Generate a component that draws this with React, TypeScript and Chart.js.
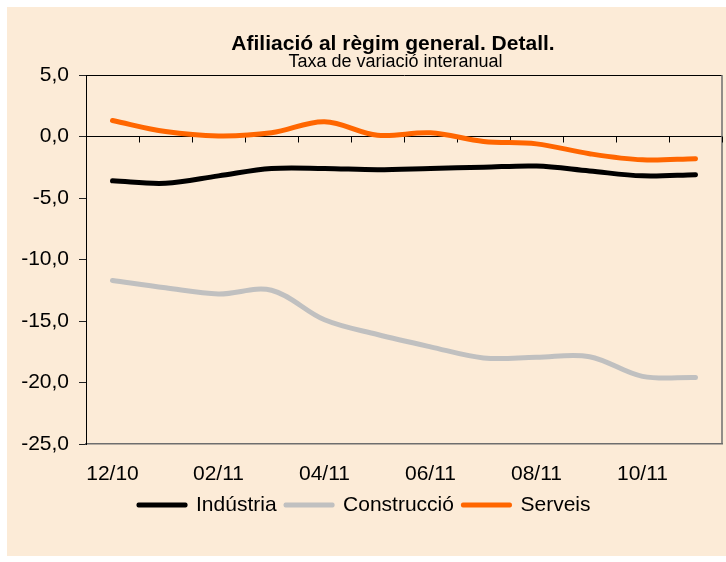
import React, { useEffect, useRef } from 'react';
import { Chart, registerables } from 'chart.js';

Chart.register(...registerables);

const FONT = '"Liberation Sans", Arial, Helvetica, sans-serif';

const TITLE = 'Afiliació al règim general. Detall.';
const SUBTITLE = 'Taxa de variació interanual';

const categories = ['12/10', '01/11', '02/11', '03/11', '04/11', '05/11', '06/11', '07/11', '08/11', '09/11', '10/11', '11/11'];
const industria = [-3.6, -3.8, -3.2, -2.6, -2.6, -2.7, -2.6, -2.5, -2.4, -2.8, -3.2, -3.1];
const construccio = [-11.7, -12.3, -12.8, -12.5, -14.9, -16.1, -17.1, -18.0, -17.95, -17.9, -19.5, -19.6];
const serveis = [1.3, 0.4, 0.05, 0.3, 1.2, 0.1, 0.3, -0.4, -0.6, -1.4, -1.9, -1.8];

const seriesNames = ['Indústria', 'Construcció', 'Serveis'];
const seriesColors = ['#000000', '#C0C0C0', '#FF6600'];

const yMin = -25;
const yMax = 5;
const yStep = 5;

const titlePlugin = {
  id: 'customTitle',
  afterDraw(chart: any) {
    const ctx = chart.ctx;
    ctx.save();
    ctx.fillStyle = '#000';
    ctx.textAlign = 'center';
    ctx.textBaseline = 'alphabetic';
    ctx.font = `bold 21px ${FONT}`;
    ctx.fillText(TITLE, 386, 43);
    ctx.font = `18px ${FONT}`;
    ctx.fillText(SUBTITLE, 388.5, 60);
    ctx.restore();
  },
};

const framePlugin = {
  id: 'frame',
  beforeDatasetsDraw(chart: any) {
    const { ctx, chartArea } = chart;
    const xs = chart.scales.x;
    const ys = chart.scales.y;
    const y0 = ys.getPixelForValue(0);
    ctx.save();
    ctx.strokeStyle = '#6E6E6E';
    ctx.lineWidth = 1.5;
    ctx.beginPath();
    ctx.moveTo(chartArea.right, chartArea.top);
    ctx.lineTo(chartArea.right, chartArea.bottom);
    ctx.stroke();
    ctx.strokeStyle = '#000';
    ctx.lineWidth = 1;
    const n = categories.length;
    for (let k = 0; k < n; k++) {
      let x;
      if (k < n - 1) x = (xs.getPixelForValue(k) + xs.getPixelForValue(k + 1)) / 2;
      else x = chartArea.right;
      x = Math.round(x) + 0.5;
      ctx.beginPath();
      ctx.moveTo(x, y0);
      ctx.lineTo(x, y0 + 6);
      ctx.stroke();
    }
    ctx.restore();
  },
};

export default function App() {
  const canvasRef = useRef<HTMLCanvasElement | null>(null);

  useEffect(() => {
    if (!canvasRef.current) return;
    const datasets = [industria, construccio, serveis].map((d, i) => ({
      label: seriesNames[i],
      data: d,
      borderColor: seriesColors[i],
      backgroundColor: seriesColors[i],
      borderWidth: 5,
      borderCapStyle: 'round' as const,
      borderJoinStyle: 'round' as const,
      pointRadius: 0,
      pointHoverRadius: 0,
      tension: 0.35,
      fill: false,
    }));

    const chart = new Chart(canvasRef.current, {
      type: 'line',
      data: { labels: categories, datasets },
      options: {
        animation: false,
        responsive: true,
        maintainAspectRatio: false,
        layout: { padding: { top: 68, right: 4, bottom: 30.5, left: 0 } },
        plugins: {
          title: { display: false },
          tooltip: { enabled: false },
          legend: {
            display: true,
            position: 'bottom',
            labels: {
              font: { size: 21, family: FONT },
              color: '#000',
              boxWidth: 47,
              boxHeight: 1,
              padding: 9,
              generateLabels: (c: any) =>
                c.data.datasets.map((ds: any, i: number) => ({
                  text: ds.label,
                  fillStyle: ds.borderColor,
                  strokeStyle: ds.borderColor,
                  lineWidth: 4,
                  lineJoin: 'round',
                  lineCap: 'round',
                  hidden: false,
                  datasetIndex: i,
                  fontColor: '#000',
                })),
            },
          },
        },
        scales: {
          x: {
            offset: true,
            grid: { display: false, drawTicks: false },
            border: { display: true, color: '#6E6E6E', width: 1.5 },
            ticks: {
              autoSkip: false,
              maxRotation: 0,
              minRotation: 0,
              padding: 18,
              color: '#000',
              font: { size: 21, family: FONT },
              callback: (_v: any, i: number) => (i % 2 === 0 ? categories[i] : ''),
            },
            afterFit: (s: any) => {
              s.height = 41.5;
            },
          },
          y: {
            min: yMin,
            max: yMax,
            ticks: {
              stepSize: yStep,
              padding: 10,
              color: '#000',
              font: { size: 21, family: FONT },
              callback: (v: any) => Number(v).toFixed(1).replace('.', ','),
            },
            grid: {
              drawTicks: true,
              tickLength: 7,
              tickColor: '#222',
              lineWidth: 1,
              color: (ctx: any) =>
                ctx.tick && (ctx.tick.value === 0 || ctx.tick.value === yMax) ? '#000' : 'rgba(0,0,0,0)',
            },
            border: { display: true, color: '#000', width: 1 },
            afterFit: (s: any) => {
              s.width = 79;
            },
          },
        },
      },
      plugins: [framePlugin, titlePlugin],
    });
    return () => chart.destroy();
  }, []);

  return (
    <div
      style={{
        position: 'absolute',
        left: 7,
        top: 7,
        width: 719,
        height: 549,
        background: '#FCEBD7',
      }}
    >
      <canvas ref={canvasRef} />
    </div>
  );
}
